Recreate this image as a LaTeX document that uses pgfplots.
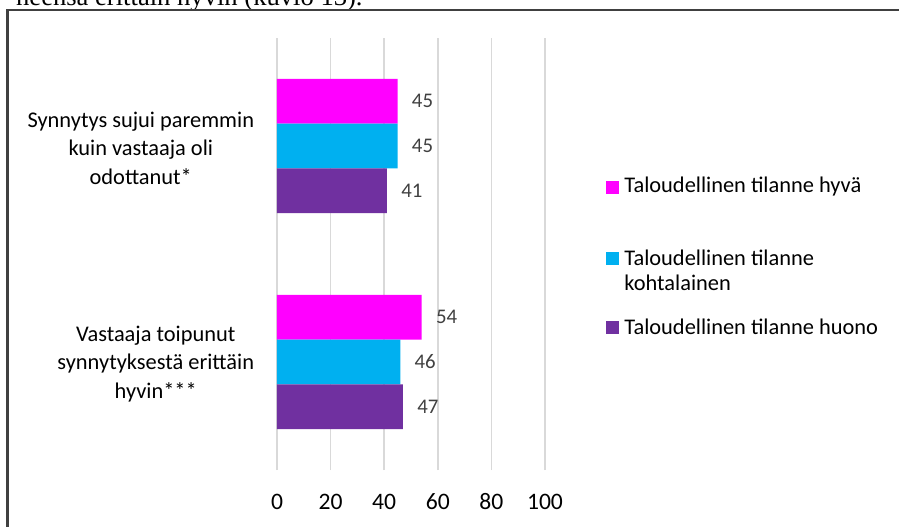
\documentclass[border=0pt]{standalone}
\usepackage{fontspec}
\setmainfont{Carlito}
\newfontfamily\timesfont{Liberation Serif}
\usepackage{pgfplots}
\pgfplotsset{compat=1.18}

\definecolor{hyva}{HTML}{FF00FF}
\definecolor{kohta}{HTML}{00B0F0}
\definecolor{huono}{HTML}{7030A0}
\definecolor{gridc}{HTML}{D9D9D9}
\definecolor{lblc}{HTML}{404040}
\definecolor{framec}{HTML}{404040}

\begin{document}
\begin{tikzpicture}
% page = 899x526 px, 1 px = 0.5pt, origin at the axis' lower left corner
\path[use as bounding box] (-138.5pt,-28pt) rectangle (311pt,235pt);
\clip (-138.5pt,-28pt) rectangle (311pt,235pt);

% text of the page above the chart, cut off
\node[font=\timesfont\fontsize{13.3}{15}\selectfont, anchor=base east, inner sep=0pt]
  at (43pt,232.5pt) {neensa erittäin hyvin (kuvio 13).};

% chart frame
\draw[framec, line width=1.2pt] (-134.75pt,-40pt) -- (-134.75pt,230pt) -- (320pt,230pt);

\begin{axis}[
  at={(0pt,0pt)}, anchor=south west,
  scale only axis,
  width=134pt, height=216pt,
  xbar,
  bar width=22.35pt,
  xmin=0, xmax=100,
  ymin=-0.5, ymax=1.5,
  xtick={0,20,40,60,80,100},
  ytick={0,1},
  yticklabels={{Vastaaja toipunut\\synnytyksestä erittäin\\hyvin***},
               {Synnytys sujui paremmin\\kuin vastaaja oli\\odottanut*}},
  xmajorgrids,
  grid style={gridc, line width=0.75pt},
  axis line style={draw=none},
  tick style={draw=none},
  /pgf/number format/assume math mode=true,
  xticklabel style={font=\fontsize{11.8}{14}\selectfont, anchor=base, inner sep=0pt, yshift=-19.5pt},
  yticklabel style={font=\fontsize{11.2}{14.3}\selectfont, align=center, anchor=east, inner sep=0pt, xshift=-7pt, yshift=-1pt},
  nodes near coords,
  nodes near coords style={font=\fontsize{10.4}{12}\selectfont, color=lblc, anchor=west, inner sep=0pt, xshift=7pt},
]
\addplot[fill=hyva, draw=none, bar shift=22.35pt] coordinates {(54,0) (45,1)};
\addplot[fill=kohta, draw=none, bar shift=0pt] coordinates {(46,0) (45,1)};
\addplot[fill=huono, draw=none, bar shift=-22.35pt] coordinates {(47,0) (41,1)};
\end{axis}

% legend
\begin{scope}[font=\fontsize{11.2}{12.5}\selectfont]
\fill[hyva]  (164.5pt,138.25pt) rectangle ++(6.5pt,6.5pt);
\node[anchor=west, inner sep=0pt] at (173.5pt,141.5pt) {Taloudellinen tilanne hyvä};
\fill[kohta] (164.5pt,102.75pt) rectangle ++(6.5pt,6.5pt);
\node[anchor=west, inner sep=0pt] at (173.5pt,106pt) {Taloudellinen tilanne};
\node[anchor=west, inner sep=0pt] at (173.5pt,93.5pt) {kohtalainen};
\fill[huono] (164.5pt,68.25pt) rectangle ++(6.5pt,6.5pt);
\node[anchor=west, inner sep=0pt] at (173.5pt,71.5pt) {Taloudellinen tilanne huono};
\end{scope}
\end{tikzpicture}
\end{document}
